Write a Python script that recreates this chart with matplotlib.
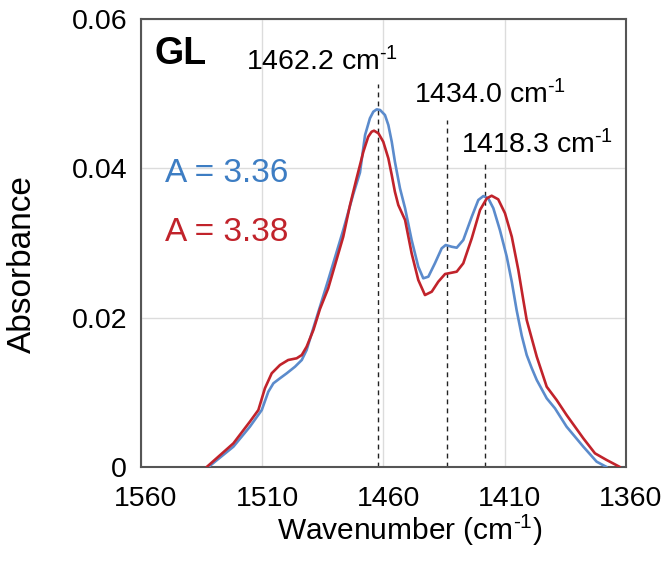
import matplotlib
matplotlib.use("Agg")
import matplotlib.pyplot as plt
from matplotlib.patches import Rectangle
import matplotlib.transforms as mtransforms

plt.rcParams["font.family"] = ["Liberation Sans", "DejaVu Sans"]
plt.rcParams["mathtext.fontset"] = "custom"
plt.rcParams["mathtext.rm"] = "Liberation Sans"
plt.rcParams["mathtext.it"] = "Liberation Sans:italic"
plt.rcParams["mathtext.bf"] = "Liberation Sans:bold"

# Spectrum A = 3.36 (blue)
wn_blue = [1532.2, 1521.9, 1515.1, 1510.2, 1507.5, 1505.4, 1502.7, 1499.9, 1496.5,
           1493.7, 1491.7, 1489.6, 1486.2, 1482.8, 1476.6, 1472.5, 1469.7, 1467.6,
           1465.6, 1464.2, 1462.8, 1461.4, 1459.4, 1458.0, 1456.6, 1455.3, 1453.2,
           1451.1, 1448.4, 1445.65, 1443.6, 1441.5, 1438.8, 1436.0, 1434.35, 1431.9,
           1429.8, 1427.1, 1423.6, 1420.9, 1418.8, 1416.8, 1414.7, 1412.0, 1409.2,
           1407.1, 1405.1, 1403.0, 1400.95, 1398.9, 1396.8, 1392.7, 1389.3, 1384.5,
           1377.6, 1372.1, 1368.0]
abs_blue = [0.0, 0.00272, 0.0054, 0.00763, 0.01008, 0.01121, 0.01188, 0.01255, 0.01343,
            0.01433, 0.01567, 0.01791, 0.02147, 0.02504, 0.03174, 0.0365, 0.03944, 0.04446,
            0.0467, 0.04758, 0.0479, 0.04781, 0.04714, 0.0458, 0.04356, 0.04089, 0.03732,
            0.03465, 0.0304, 0.02682, 0.02527, 0.02549, 0.02728, 0.02929, 0.02973, 0.0295,
            0.02937, 0.0304, 0.03352, 0.03576, 0.03629, 0.03598, 0.03465, 0.03174, 0.0282,
            0.0248, 0.0210, 0.0176, 0.0150, 0.01326, 0.01165, 0.0092, 0.00786, 0.0054,
            0.00272, 0.00071, 0.0]

# Spectrum A = 3.38 (red)
wn_red = [1532.9, 1521.9, 1515.1, 1511.6, 1508.9, 1506.1, 1502.7, 1499.3, 1495.8,
          1493.7, 1491.7, 1488.9, 1486.2, 1482.8, 1476.6, 1473.8, 1471.1, 1468.3,
          1466.3, 1464.9, 1463.9, 1462.1, 1460.1, 1458.0, 1456.6, 1455.3, 1453.9,
          1451.1, 1448.4, 1445.65, 1442.9, 1440.1, 1437.4, 1434.6, 1431.9, 1429.8,
          1427.1, 1423.6, 1420.2, 1417.4, 1415.4, 1412.7, 1409.9, 1407.1, 1404.4,
          1402.35, 1400.95, 1396.8, 1392.7, 1388.6, 1384.5, 1377.6, 1372.8, 1368.0,
          1362.5]
abs_red = [0.0, 0.00317, 0.00607, 0.00763, 0.01054, 0.01255, 0.01366, 0.01433, 0.01456,
           0.015, 0.01611, 0.01835, 0.02116, 0.02393, 0.03084, 0.03509, 0.03866, 0.04223,
           0.04423, 0.0449, 0.04504, 0.04469, 0.04356, 0.04134, 0.0391, 0.03687, 0.03509,
           0.03308, 0.02862, 0.02504, 0.02303, 0.02348, 0.02482, 0.02585, 0.02602, 0.02616,
           0.02728, 0.03063, 0.03442, 0.03598, 0.03633, 0.03585, 0.03398, 0.03084, 0.02638,
           0.02236, 0.01969, 0.01477, 0.01075, 0.00897, 0.00696, 0.00384, 0.00183, 0.00094,
           0.0]

peak_positions = [1462.2, 1434.0, 1418.3]
peak_tops = [0.0513, 0.0465, 0.0408]
peak_labels = ["1462.2", "1434.0", "1418.3"]

x_ticks = [1560, 1510, 1460, 1410, 1360]
y_ticks = [0, 0.02, 0.04, 0.06]
y_ticklabels = ["0", "0.02", "0.04", "0.06"]

blue = "#5B8BCC"
red = "#C1232B"
blue_text = "#3D7DC3"
red_text = "#C1232B"

fig = plt.figure(figsize=(6.71, 5.61), dpi=100)
ax = fig.add_axes([141 / 671, 1 - 467 / 561, 485 / 671, 448 / 561])

ax.set_xlim(1560, 1360)
ax.set_ylim(0, 0.06)
ax.set_axisbelow(True)
ax.grid(True, color="#DCDCDC", linewidth=1.0)

# white panel behind the A labels
ax.add_patch(Rectangle((1560, 0.0276), 1560 - 1487.4, 0.0451 - 0.0276,
                       facecolor="white", edgecolor="none", zorder=1))

for xp, top in zip(peak_positions, peak_tops):
    ax.plot([xp, xp], [0, top], color="#222222", linewidth=1.0,
            linestyle=(0, (3.5, 3.0)), zorder=2)

ax.plot(wn_blue, abs_blue, color=blue, linewidth=1.9, zorder=3,
        solid_capstyle="round", solid_joinstyle="round")
ax.plot(wn_red, abs_red, color=red, linewidth=1.9, zorder=4,
        solid_capstyle="round", solid_joinstyle="round")

ax.set_xticks(x_ticks)
ax.set_xticklabels([str(t) for t in x_ticks])
ax.set_yticks(y_ticks)
ax.set_yticklabels(y_ticklabels)
ax.tick_params(axis="both", length=0, labelsize=20.5, colors="black")
ax.tick_params(axis="x", pad=14)
ax.tick_params(axis="y", pad=10)
offset = mtransforms.ScaledTranslation(5 / 100, 0, fig.dpi_scale_trans)
for lbl in ax.get_xticklabels():
    lbl.set_transform(lbl.get_transform() + offset)

for sp in ax.spines.values():
    sp.set_color("#555555")
    sp.set_linewidth(1.5)

sup = r"$^{\text{-1}}$"

# peak annotations (baselines in figure coords)
label_pos = [(246, 70), (414, 103), (461, 153)]
for (px, py), lab in zip(label_pos, peak_labels):
    fig.text(px / 671, 1 - py / 561, lab + " cm" + sup, fontsize=20.5,
             ha="left", va="baseline", color="black")

fig.text(155 / 671, 1 - 64 / 561, "GL", fontsize=27, fontweight="bold",
         ha="left", va="baseline", color="black")
fig.text(165 / 671, 1 - 182 / 561, "A = 3.36", fontsize=24,
         ha="left", va="baseline", color=blue_text)
fig.text(165 / 671, 1 - 241 / 561, "A = 3.38", fontsize=24,
         ha="left", va="baseline", color=red_text)

fig.text(410 / 671, 1 - 540 / 561, "Wavenumber (cm" + sup + ")", fontsize=21.5,
         ha="center", va="baseline")
fig.text(22 / 671, 1 - 264 / 561, "Absorbance", fontsize=24, rotation=90,
         ha="center", va="center")

fig.savefig("out.png", dpi=100)
